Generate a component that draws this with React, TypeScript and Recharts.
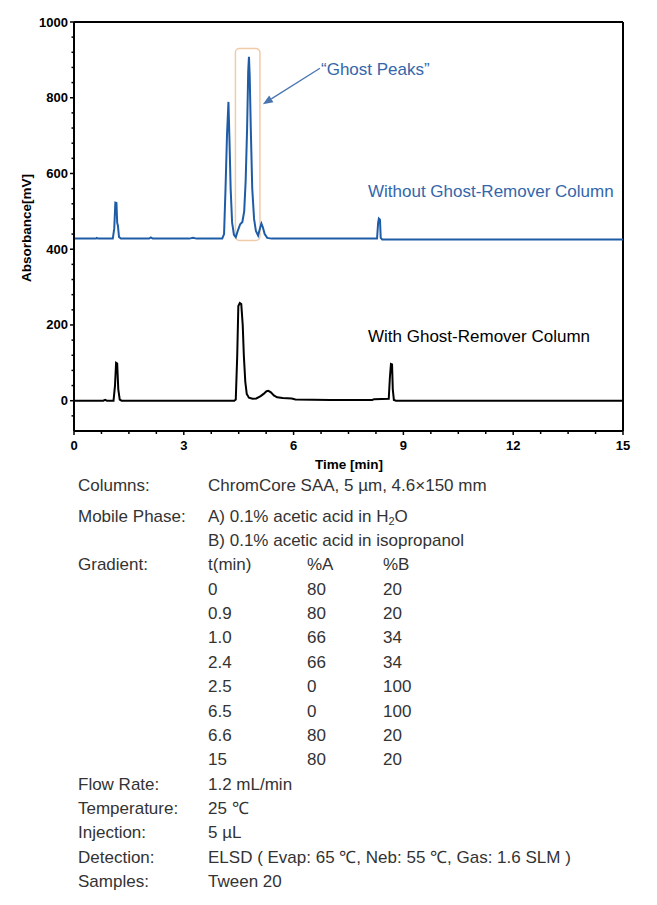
import React from 'react';
import { LineChart, Line, XAxis, YAxis, ReferenceLine, ReferenceArea } from 'recharts';

// chromatogram readings, [time (min), absorbance (mV)]
const withoutColumn: [number, number][] = [
  [0, 428], [0.6, 428], [0.62, 430], [0.66, 428], [1.06, 428], [1.1, 455], [1.13, 523], [1.16, 522],
  [1.18, 470], [1.2, 462], [1.23, 432], [1.28, 428], [2.05, 428], [2.1, 431], [2.15, 428], [3.15, 428],
  [3.25, 430], [3.35, 428], [4.05, 428], [4.1, 440], [4.14, 560], [4.18, 700], [4.22, 789], [4.25, 680],
  [4.28, 560], [4.32, 470], [4.37, 438], [4.42, 432], [4.48, 450], [4.54, 466], [4.6, 472], [4.65, 500],
  [4.69, 580], [4.73, 720], [4.76, 870], [4.78, 908], [4.8, 860], [4.83, 720], [4.87, 560], [4.92, 480],
  [4.97, 448], [5.03, 436], [5.08, 455], [5.12, 468], [5.16, 458], [5.21, 440], [5.28, 430], [5.4, 428],
  [8.28, 428], [8.31, 470], [8.33, 481], [8.36, 478], [8.38, 430], [8.42, 426], [15, 426],
];

const withColumn: [number, number][] = [
  [0, 0], [0.8, 0], [0.85, 2], [0.9, 0], [1.08, 0], [1.12, 40], [1.15, 100], [1.18, 98], [1.21, 30],
  [1.25, 3], [1.3, 0], [4.38, 0], [4.42, 3], [4.46, 120], [4.49, 250], [4.53, 258], [4.57, 255],
  [4.61, 200], [4.64, 120], [4.68, 50], [4.72, 18], [4.78, 8], [4.88, 5], [4.98, 6], [5.1, 12],
  [5.18, 18], [5.26, 25], [5.31, 26], [5.38, 22], [5.46, 14], [5.55, 9], [5.7, 7], [5.95, 6], [6.05, 3],
  [7, 2], [8.15, 2], [8.2, 4], [8.6, 5], [8.63, 60], [8.66, 97], [8.69, 96], [8.71, 30], [8.74, 2],
  [8.8, 0], [15, 0],
];

const xTicks = [0, 0.75, 1.5, 2.25, 3, 3.75, 4.5, 5.25, 6, 6.75, 7.5, 8.25, 9, 9.75, 10.5, 11.25, 12, 12.75, 13.5, 14.25, 15];
const xLabels = [0, 3, 6, 9, 12, 15];
const yTicks = [-40, 0, 40, 80, 120, 160, 200, 240, 280, 320, 360, 400, 440, 480, 520, 560, 600, 640, 680, 720, 760, 800, 840, 880, 920, 960, 1000];
const yLabels = [0, 200, 400, 600, 800, 1000];

const gradTime = ['0', '0.9', '1.0', '2.4', '2.5', '6.5', '6.6', '15'];
const gradA = ['80', '80', '66', '66', '0', '0', '80', '80'];
const gradB = ['20', '20', '34', '34', '100', '100', '20', '20'];

const blueData = withoutColumn.map(([t, v]) => ({ t, v }));
const blackData = withColumn.map(([t, v]) => ({ t, v }));

const BLUE = '#1f5ca6';
const TEXT_BLUE = '#3466aa';

const XTick = (props: any) => {
  const { x, y, payload } = props;
  const major = xLabels.includes(payload.value);
  return (
    <g>
      <line x1={x} x2={x} y1={y} y2={y + (major ? 4 : 3)} stroke="#000" strokeWidth={1.5} />
      {major && (
        <text x={x} y={y + 19} textAnchor="middle" fontSize={13} fontWeight="bold" fill="#000">
          {payload.value}
        </text>
      )}
    </g>
  );
};

const YTick = (props: any) => {
  const { x, y, payload } = props;
  const major = yLabels.includes(payload.value);
  return (
    <g>
      <line x1={x} x2={x - (major ? 4 : 2.5)} y1={y} y2={y} stroke="#000" strokeWidth={1.5} />
      {major && (
        <text x={x - 6} y={y + 4.5} textAnchor="end" fontSize={13} fontWeight="bold" fill="#000">
          {payload.value}
        </text>
      )}
    </g>
  );
};

const Arrow = (props: any) => {
  const { x1, y1, x2, y2 } = props;
  const ang = Math.atan2(y2 - y1, x2 - x1);
  const len = 10;
  const w = 4;
  const bx = x2 - len * Math.cos(ang);
  const by = y2 - len * Math.sin(ang);
  const px = -Math.sin(ang) * w;
  const py = Math.cos(ang) * w;
  return (
    <g>
      <line x1={x1} y1={y1} x2={bx} y2={by} stroke="#4a76b0" strokeWidth={1.3} />
      <polygon points={`${x2},${y2} ${bx + px},${by + py} ${bx - px},${by - py}`} fill="#4a76b0" />
    </g>
  );
};

const labelCol = 78;
const valCol = 208;
const aCol = 307;
const bCol = 383;

const Row = ({ top, label, children }: { top: number; label?: string; children?: React.ReactNode }) => (
  <div style={{ position: 'absolute', top: top - 11, left: 0, width: 657, height: 22, lineHeight: '22px' }}>
    {label && <span style={{ position: 'absolute', left: labelCol }}>{label}</span>}
    {children}
  </div>
);

const Cell = ({ left, children }: { left: number; children: React.ReactNode }) => (
  <span style={{ position: 'absolute', left, whiteSpace: 'nowrap' }}>{children}</span>
);

export default function App() {
  const step = 24.35;
  const base = 516.7;
  return (
    <div
      style={{
        position: 'absolute',
        left: 0,
        top: 0,
        width: 657,
        height: 905,
        background: '#fff',
        fontFamily: 'Arial, "Liberation Sans", sans-serif',
      }}
    >
      <LineChart width={657} height={480} margin={{ top: 22, right: 34, bottom: 0, left: 0 }}>
        <XAxis
          dataKey="t"
          type="number"
          domain={[0, 15]}
          ticks={xTicks}
          interval={0}
          allowDataOverflow
          height={49}
          tickSize={0}
          tickMargin={0}
          tickLine={false}
          axisLine={{ stroke: '#000', strokeWidth: 2 }}
          tick={<XTick />}
          label={{
            content: () => (
              <text x={349} y={469} textAnchor="middle" fontSize={13.5} fontWeight="bold" fill="#000">
                Time [min]
              </text>
            ),
          }}
        />
        <YAxis
          dataKey="v"
          type="number"
          domain={[-80, 1000]}
          ticks={yTicks}
          interval={0}
          allowDataOverflow
          width={74}
          tickSize={0}
          tickMargin={0}
          tickLine={false}
          axisLine={{ stroke: '#000', strokeWidth: 2 }}
          tick={<YTick />}
          label={{
            content: () => (
              <text
                x={31}
                y={228}
                transform="rotate(-90 31 228)"
                textAnchor="middle"
                fontSize={13.5}
                fontWeight="bold"
                fill="#000"
              >
                Absorbance[mV]
              </text>
            ),
          }}
        />
        <ReferenceLine y={1000} stroke="#000" strokeWidth={2} />
        <ReferenceLine x={15} stroke="#000" strokeWidth={2} />
        <ReferenceArea
          x1={4.41}
          x2={5.08}
          y1={423}
          y2={930}
          fill="none"
          fillOpacity={0}
          stroke="#f1cba9"
          strokeWidth={1.5}
          radius={4}
        />
        <Line
          data={blueData}
          dataKey="v"
          type="linear"
          stroke={BLUE}
          strokeWidth={2}
          dot={false}
          isAnimationActive={false}
        />
        <Line
          data={blackData}
          dataKey="v"
          type="linear"
          stroke="#000"
          strokeWidth={2}
          dot={false}
          isAnimationActive={false}
        />
        <ReferenceLine
          segment={[
            { x: 6.72, y: 878 },
            { x: 5.16, y: 783 },
          ]}
          shape={(p: any) => <Arrow {...p} />}
        />
      </LineChart>

      <div style={{ position: 'absolute', left: 321, top: 60, fontSize: 17, lineHeight: '20px', color: TEXT_BLUE, whiteSpace: 'nowrap' }}>
        “Ghost Peaks”
      </div>
      <div style={{ position: 'absolute', left: 368, top: 182, fontSize: 17, lineHeight: '20px', color: TEXT_BLUE, whiteSpace: 'nowrap' }}>
        Without Ghost-Remover Column
      </div>
      <div style={{ position: 'absolute', left: 368, top: 327, fontSize: 17, lineHeight: '20px', color: '#000', whiteSpace: 'nowrap' }}>
        With Ghost-Remover Column
      </div>

      <div style={{ position: 'absolute', left: 0, top: 0, fontSize: 17, color: '#333' }}>
        <Row top={486} label="Columns:">
          <Cell left={valCol}>ChromCore SAA, 5 µm, 4.6×150 mm</Cell>
        </Row>
        <Row top={base} label="Mobile Phase:">
          <Cell left={valCol}>
            A) 0.1% acetic acid in H<sub style={{ fontSize: 11, verticalAlign: '-3px' }}>2</sub>O
          </Cell>
        </Row>
        <Row top={base + step}>
          <Cell left={valCol}>B) 0.1% acetic acid in isopropanol</Cell>
        </Row>
        <Row top={base + step * 2} label="Gradient:">
          <Cell left={valCol}>t(min)</Cell>
          <Cell left={aCol}>%A</Cell>
          <Cell left={bCol}>%B</Cell>
        </Row>
        {gradTime.map((t, i) => (
          <Row key={t} top={base + step * (3 + i)}>
            <Cell left={valCol}>{t}</Cell>
            <Cell left={aCol}>{gradA[i]}</Cell>
            <Cell left={bCol}>{gradB[i]}</Cell>
          </Row>
        ))}
        <Row top={base + step * 11} label="Flow Rate:">
          <Cell left={valCol}>1.2 mL/min</Cell>
        </Row>
        <Row top={base + step * 12} label="Temperature:">
          <Cell left={valCol}>25 ℃</Cell>
        </Row>
        <Row top={base + step * 13} label="Injection:">
          <Cell left={valCol}>5 µL</Cell>
        </Row>
        <Row top={base + step * 14} label="Detection:">
          <Cell left={valCol}>ELSD ( Evap: 65 ℃, Neb: 55 ℃, Gas: 1.6 SLM )</Cell>
        </Row>
        <Row top={base + step * 15} label="Samples:">
          <Cell left={valCol}>Tween 20</Cell>
        </Row>
      </div>
    </div>
  );
}
